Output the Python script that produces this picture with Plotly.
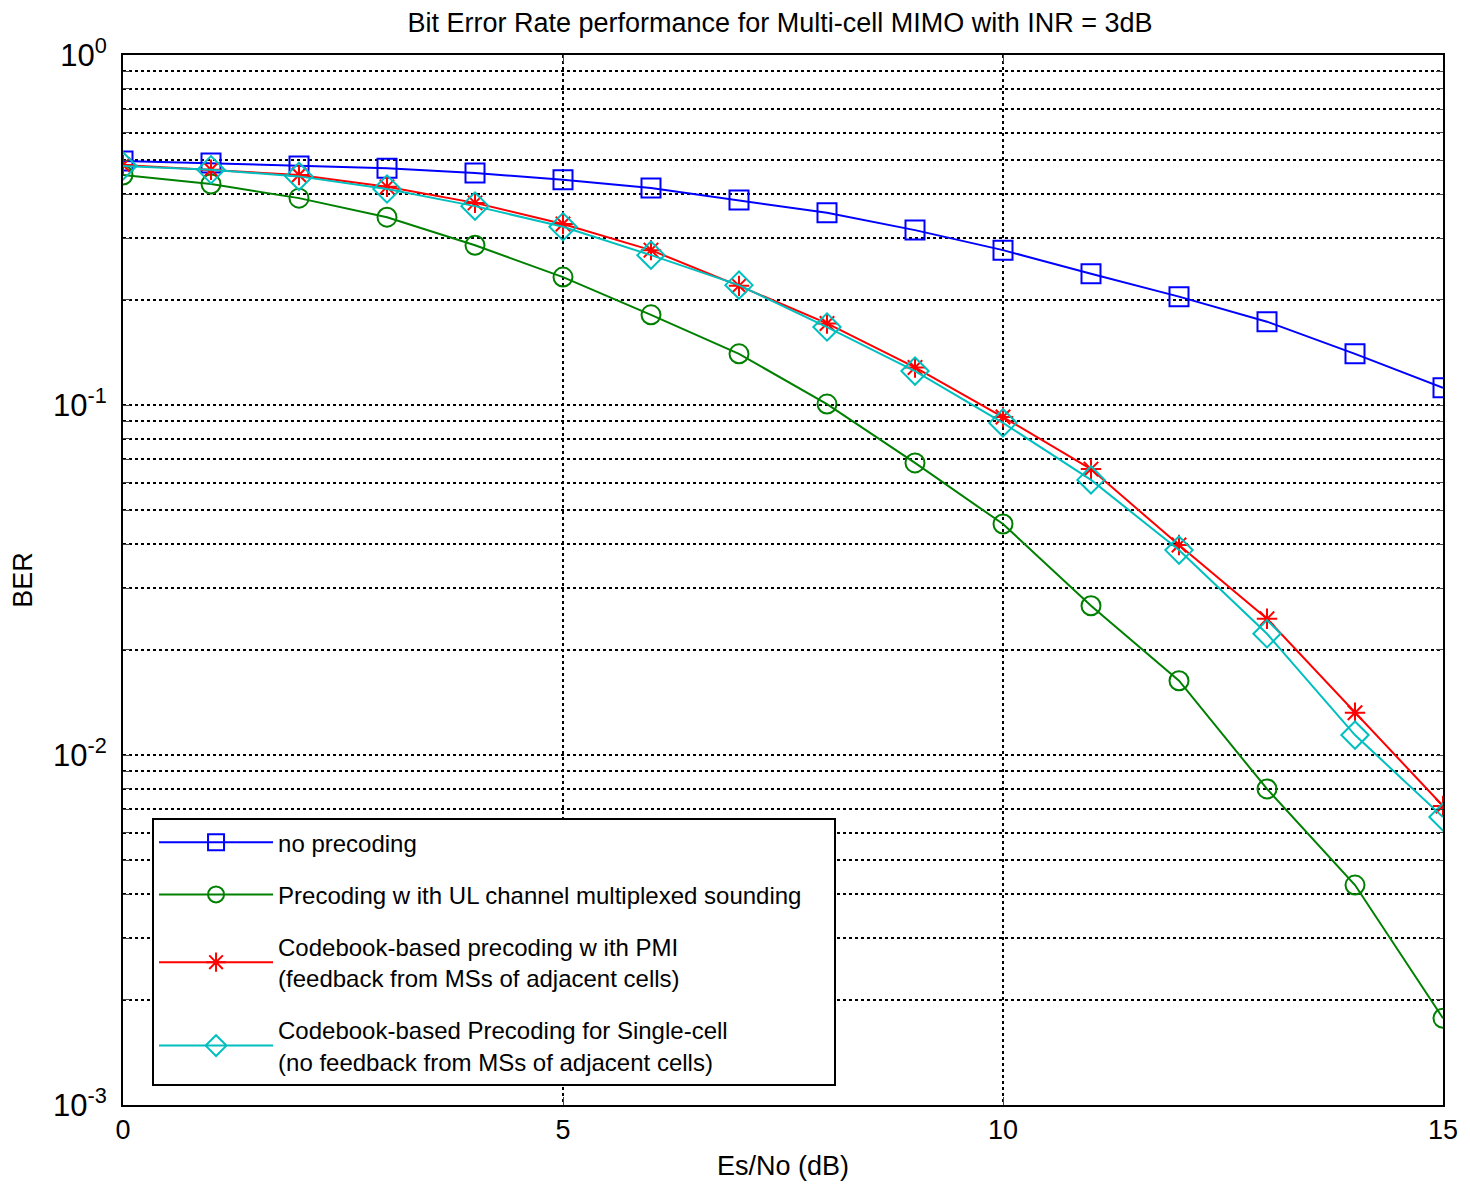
import plotly.graph_objects as go

snr = list(range(16))
ber_noprec = [0.498, 0.491, 0.482, 0.475, 0.460, 0.440, 0.417, 0.385, 0.354, 0.316,
              0.277, 0.237, 0.204, 0.173, 0.140, 0.112]
ber_ul = [0.454, 0.428, 0.390, 0.344, 0.286, 0.232, 0.181, 0.140, 0.1006, 0.0683,
          0.0457, 0.0267, 0.0163, 0.0080, 0.00425, 0.00177]
ber_pmi = [0.485, 0.470, 0.454, 0.420, 0.378, 0.329, 0.277, 0.219, 0.171, 0.128,
           0.0924, 0.0656, 0.0398, 0.0245, 0.0132, 0.00715]
ber_single = [0.482, 0.470, 0.450, 0.414, 0.370, 0.323, 0.268, 0.220, 0.167, 0.125,
              0.0889, 0.0611, 0.0385, 0.0222, 0.0114, 0.00665]

names = ["no precoding",
         "Precoding w ith UL channel multiplexed sounding&nbsp;&nbsp;&nbsp;&nbsp;",
         "Codebook-based precoding w ith PMI<br>(feedback from MSs of adjacent cells)",
         "Codebook-based Precoding for Single-cell<br>(no feedback from MSs of adjacent cells)"]
decades = [-3, -2, -1]
major_text = {0: "10<sup>0</sup>", -1: "10<sup>-1</sup>", -2: "10<sup>-2</sup>", -3: "10<sup>-3</sup>"}
xtickvals = [0, 5, 10, 15]

ytickvals, yticktext = [], []
for d in decades:
    for m in range(1, 10):
        ytickvals.append(m * 10.0 ** d)
        yticktext.append(major_text[d] if m == 1 else "")
ytickvals.append(1.0)
yticktext.append(major_text[0])

fig = go.Figure()
styles = [
    (ber_noprec, "#0000FF", "square-open", 19),
    (ber_ul, "#008000", "circle-open", 19),
    (ber_pmi, "#FF0000", "asterisk-open", 17),
    (ber_single, "#00BFBF", "diamond-open", 21),
]
for i, ((vals, col, sym, sz), nm) in enumerate(zip(styles, names)):
    fig.add_trace(go.Scatter(
        x=snr, y=vals, mode="lines+markers", name=nm, legendgroup=f"g{i}",
        line=dict(color=col, width=2),
        marker=dict(symbol=sym, size=sz, color=col, line=dict(color=col, width=2)),
    ))

fig.update_layout(
    width=1462, height=1180,
    margin=dict(l=113, r=22, t=47, b=81),
    paper_bgcolor="white", plot_bgcolor="white",
    font=dict(family="Arial, Liberation Sans, sans-serif", size=24, color="black"),
    title=dict(text="Bit Error Rate performance for Multi-cell MIMO with INR = 3dB",
               x=(780 - 8) / 1462, xref="container", xanchor="center",
               y=1 - (23 - 8) / 1180, yref="container", yanchor="middle",
               font=dict(size=27, color="black")),
    showlegend=True,
    legend=dict(x=0.022, y=0.018, xanchor="left", yanchor="bottom",
                bgcolor="white", bordercolor="black", borderwidth=2,
                font=dict(size=24), tracegroupgap=18, itemwidth=114),
)
fig.update_xaxes(
    range=[0, 15], tickvals=xtickvals, ticks="inside", ticklen=8,
    showline=True, linecolor="black", linewidth=2, mirror="allticks",
    showgrid=True, gridcolor="black", griddash="dot", gridwidth=1.5,
    zeroline=False, tickfont=dict(size=27),
    title=dict(text="Es/No (dB)", font=dict(size=27), standoff=12),
)
fig.update_yaxes(
    type="log", range=[-3, 0], tickvals=ytickvals, ticktext=yticktext,
    ticks="inside", ticklen=7, ticklabelstandoff=8,
    showline=True, linecolor="black", linewidth=2, mirror="allticks",
    showgrid=True, gridcolor="black", griddash="dot", gridwidth=1.5,
    zeroline=False, tickfont=dict(size=31),
    title=dict(text="BER", font=dict(size=27), standoff=14),
)
fig.write_html("out.html")
